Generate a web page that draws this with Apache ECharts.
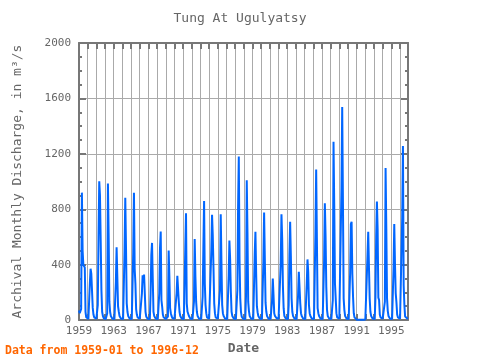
<!DOCTYPE html>
<html>
<head>
<meta charset="utf-8">
<script src="https://cdn.jsdelivr.net/npm/echarts@6/dist/echarts.min.js"></script>
<style>
html,body{margin:0;padding:0;background:#fff;}
#chart{width:480px;height:360px;}
</style>
</head>
<body>
<div id="chart"></div>
<script>
// Monthly discharge (m3/s), Jan..Dec for each year
const startYear = 1959;
const flow1959to1968 = [
  70,50,40,80,920,500,400,395,380,60,20,10,      // 1959
  10,8,8,264,371,336,324,90,40,20,12,10,         // 1960
  10,8,110,598,1002,900,574,217,60,30,15,10,     // 1961
  10,8,8,50,986,614,133,60,30,20,12,10,          // 1962
  10,8,8,276,526,312,100,62,30,20,12,10,         // 1963
  10,8,8,502,883,526,121,60,30,20,12,10,         // 1964
  10,8,8,490,919,371,264,80,40,20,12,10,         // 1965
  10,8,8,193,324,300,328,193,60,25,12,10,        // 1966
  10,8,8,193,467,557,300,60,30,20,12,10,         // 1967
  10,8,8,193,514,640,145,98,40,20,12,10          // 1968
];
const flow1969to1978 = [
  8,6,6,26,502,312,86,50,30,15,10,8,             // 1969
  10,8,8,193,319,324,133,60,30,20,12,10,         // 1970
  10,8,8,514,771,121,62,50,30,20,12,10,          // 1971
  10,8,8,133,586,312,133,60,30,20,12,10,         // 1972
  10,8,8,169,519,860,264,110,50,20,12,10,        // 1973
  10,8,8,502,760,610,376,121,50,20,12,10,        // 1974
  10,8,8,217,764,419,110,50,30,20,12,10,         // 1975
  10,8,8,319,574,443,205,60,30,20,12,10,         // 1976
  10,8,8,217,807,1181,443,157,60,25,12,10,       // 1977
  10,8,8,181,1010,633,133,67,30,20,12,10         // 1978
];
const flow1979to1988 = [
  10,8,8,471,638,336,100,57,30,20,12,10,         // 1979
  10,8,8,424,776,443,126,62,30,20,12,10,         // 1980
  10,8,8,143,300,181,50,30,20,15,12,10,          // 1981
  10,8,8,412,764,586,248,86,30,20,12,10,         // 1982
  10,8,110,467,710,462,157,60,30,20,12,10,       // 1983
  10,8,8,181,348,336,121,50,30,20,12,10,         // 1984
  10,8,8,264,438,348,110,50,30,20,12,10,         // 1985
  10,8,8,633,1086,586,86,50,30,20,12,10,         // 1986
  10,8,8,431,843,605,240,74,30,20,12,10,         // 1987
  10,8,8,145,1288,824,264,157,50,20,12,10        // 1988
];
const flow1989to1996 = [
  10,8,8,955,1538,871,157,74,30,20,12,10,        // 1989
  10,8,8,343,693,710,336,169,50,20,12,10,        // 1990
  3,3,2,2,2,2,2,2,2,2,2,3,                       // 1991
  5,5,5,467,638,383,157,60,30,20,12,10,          // 1992
  10,8,170,598,855,657,162,145,40,20,12,10,      // 1993
  10,8,8,133,1098,662,157,67,30,20,12,10,        // 1994
  10,8,8,371,693,407,193,129,40,20,12,10,        // 1995
  10,8,8,740,1257,252,110,26,20,15,12,10         // 1996
];
const yTicks = [0,400,800,1200,1600,2000];
const xLabelYears = [1959,1963,1967,1971,1975,1979,1983,1987,1991,1995];

const allFlow = [].concat(flow1959to1968, flow1969to1978, flow1979to1988, flow1989to1996);
const seriesData = allFlow.map((v, i) => [startYear + Math.floor(i / 12) + (i % 12) / 12, v]);
const xMin = startYear;
const xMax = startYear + (allFlow.length - 1) / 12;

const gray = '#666';
const axisGray = '#777';
const font = 'DejaVu Sans Mono';

const chart = echarts.init(document.getElementById('chart'), null, {renderer: 'canvas'});
const commonX = {
  type: 'value', min: xMin, max: xMax, interval: 1,
  axisLine: {show: true, onZero: false, lineStyle: {color: axisGray, width: 2}},
  axisTick: {show: true, inside: true, length: 6, lineStyle: {color: axisGray, width: 2}},
};
const commonY = {
  type: 'value', min: yTicks[0], max: yTicks[yTicks.length - 1], interval: 400,
  axisLine: {show: true, lineStyle: {color: axisGray, width: 2}},
  axisTick: {show: true, inside: true, length: 7, lineStyle: {color: axisGray, width: 2}},
  minorTick: {show: true, splitNumber: 4, length: 3, lineStyle: {color: axisGray, width: 2}},
};
chart.setOption({
  animation: false,
  backgroundColor: '#fff',
  title: {
    text: 'Tung At Ugulyatsy', left: 'center', top: 7,
    textStyle: {fontFamily: font, fontSize: 13, fontWeight: 'normal', color: gray}
  },
  graphic: [{
    type: 'text', left: 5, top: 345,
    style: {text: 'Data from 1959-01 to 1996-12', fill: '#ff6600', font: 'bold 11.5px "DejaVu Sans Mono"'}
  }],
  grid: {left: 79, right: 72, top: 43, bottom: 38},
  xAxis: [
    Object.assign({}, commonX, {
      position: 'bottom',
      name: 'Date', nameLocation: 'middle', nameGap: 21,
      nameTextStyle: {fontFamily: font, fontSize: 13, fontWeight: 'bold', color: gray},
      axisLabel: {
        show: true, margin: 6, fontFamily: font, fontSize: 11, color: gray,
        formatter: v => (xLabelYears.indexOf(Math.round(v * 1000) / 1000) >= 0 ? String(Math.round(v)) : '')
      },
      splitLine: {show: true, lineStyle: {color: '#aaa', width: 1}}
    }),
    Object.assign({}, commonX, {
      position: 'top',
      axisLabel: {show: false},
      splitLine: {show: false}
    })
  ],
  yAxis: [
    Object.assign({}, commonY, {
      position: 'left',
      name: 'Archival Monthly Discharge, in m³/s', nameLocation: 'middle', nameGap: 55,
      nameTextStyle: {fontFamily: font, fontSize: 13, color: gray},
      axisLabel: {show: true, margin: 8, fontFamily: font, fontSize: 11, color: gray,
        formatter: v => String(v)},
      splitLine: {show: true, lineStyle: {color: '#aaa', width: 1}}
    }),
    Object.assign({}, commonY, {
      position: 'right',
      axisLabel: {show: false},
      splitLine: {show: false}
    })
  ],
  series: [{
    type: 'line', xAxisIndex: 0, yAxisIndex: 0,
    data: seriesData, showSymbol: false, symbol: 'none',
    lineStyle: {color: '#0066ff', width: 2}, clip: true
  }]
});
</script>
</body>
</html>
